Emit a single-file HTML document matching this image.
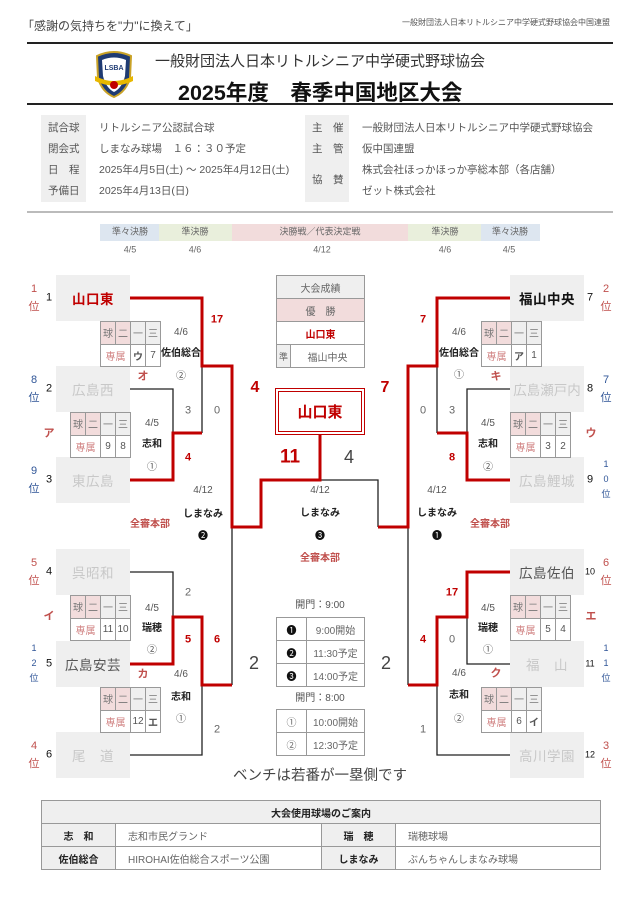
<!DOCTYPE html>
<html><head><meta charset="utf-8">
<style>
*{margin:0;padding:0;box-sizing:border-box}
body{width:640px;height:906px;position:relative;background:#fff;font-family:"Liberation Sans","Noto Sans CJK JP",sans-serif;color:#333;overflow:hidden}
.a{position:absolute;white-space:nowrap}
.t{position:absolute;white-space:nowrap;transform:translate(-50%,-50%);line-height:1}
.r{color:#c00000;font-weight:bold}
.g{color:#666}
.box{position:absolute;background:#efefef;display:flex;align-items:center;justify-content:center;font-size:13.5px;color:#c8c8c8;letter-spacing:0.5px;white-space:nowrap}
table.s{position:absolute;border-collapse:collapse;font-size:10px;table-layout:fixed}
table.s td{border:1px solid #999;text-align:center;height:22.5px;width:15px;padding:0;color:#555;background:#fff}
table.s td.p{background:#f2dcdc;color:#777}
table.s td.q{background:#efefef;color:#777}
table.s td.z{color:#d08080}
.rank{position:absolute;font-size:11px;text-align:center;width:14px;line-height:18px}
.red{color:#c0504d}.blue{color:#2f5597}
table.c{position:absolute;border-collapse:collapse;font-size:10px}
table.c td{border:1px solid #999;text-align:center;height:23px;padding:0;color:#666}
</style></head><body>

<div class="a" style="left:22px;top:17px;font-size:12px;color:#444">「感謝の気持ちを"力"に換えて」</div>
<div class="a" style="left:402px;top:17px;font-size:8px;color:#555">一般財団法人日本リトルシニア中学硬式野球協会中国連盟</div>
<div class="a" style="left:27px;top:42px;width:586px;height:2px;background:#222"></div>
<svg class="a" style="left:93px;top:50px" width="42" height="48" viewBox="0 0 42 48">
<path d="M4,6 Q21,-2 38,6 L37,28 Q33,42 21,47 Q9,42 5,28 Z" fill="#1f3b73" stroke="#c9a227" stroke-width="2"/>
<path d="M9,10 Q21,5 33,10 L32,26 Q29,38 21,42 Q13,38 10,26 Z" fill="#fff"/>
<text x="21" y="20" font-size="7" text-anchor="middle" fill="#1f3b73" font-weight="bold">LSBA</text>
<path d="M2,26 Q21,36 40,26 L40,31 Q21,40 2,31 Z" fill="#e8b800"/>
<circle cx="21" cy="35" r="4" fill="#c00000"/>
</svg>
<div class="a" style="left:155px;top:50px;font-size:15px;color:#333">一般財団法人日本リトルシニア中学硬式野球協会</div>
<div class="a" style="left:178px;top:76px;font-size:21.5px;font-weight:bold;color:#111">2025年度　春季中国地区大会</div>
<div class="a" style="left:27px;top:103px;width:586px;height:2px;background:#222"></div>

<div class="a" style="left:41px;top:115px;width:45px;height:87px;background:#efefef"></div>
<div class="a" style="left:305px;top:115px;width:44px;height:87px;background:#efefef"></div>
<div style="font-size:10.5px;color:#555">
<div class="a" style="left:48px;top:120px">試合球</div>
<div class="a" style="left:48px;top:141px">閉会式</div>
<div class="a" style="left:48px;top:162px">日　程</div>
<div class="a" style="left:48px;top:183px">予備日</div>
<div class="a" style="left:99px;top:120px">リトルシニア公認試合球</div>
<div class="a" style="left:99px;top:141px">しまなみ球場　１６：３０予定</div>
<div class="a" style="left:99px;top:162px">2025年4月5日(土) ～ 2025年4月12日(土)</div>
<div class="a" style="left:99px;top:183px">2025年4月13日(日)</div>
<div class="a" style="left:312px;top:120px">主　催</div>
<div class="a" style="left:312px;top:141px">主　管</div>
<div class="a" style="left:312px;top:172px">協　賛</div>
<div class="a" style="left:362px;top:120px">一般財団法人日本リトルシニア中学硬式野球協会</div>
<div class="a" style="left:362px;top:141px">仮中国連盟</div>
<div class="a" style="left:362px;top:162px">株式会社ほっかほっか亭総本部（各店舗）</div>
<div class="a" style="left:362px;top:183px">ゼット株式会社</div>
</div>
<div class="a" style="left:27px;top:211px;width:586px;height:2px;background:#bbb"></div>

<div class="a" style="left:100px;top:224px;width:59px;height:17px;background:#dde6f0"></div>
<div class="a" style="left:159px;top:224px;width:73px;height:17px;background:#e9efdc"></div>
<div class="a" style="left:232px;top:224px;width:176px;height:17px;background:#f2dcdc"></div>
<div class="a" style="left:408px;top:224px;width:73px;height:17px;background:#e9efdc"></div>
<div class="a" style="left:481px;top:224px;width:59px;height:17px;background:#dde6f0"></div>
<div style="font-size:9px;color:#666">
<div class="t" style="left:130px;top:232px">準々決勝</div>
<div class="t" style="left:195px;top:232px">準決勝</div>
<div class="t" style="left:320px;top:232px">決勝戦／代表決定戦</div>
<div class="t" style="left:445px;top:232px">準決勝</div>
<div class="t" style="left:510px;top:232px">準々決勝</div>
<div class="t" style="left:130px;top:250px">4/5</div>
<div class="t" style="left:195px;top:250px">4/6</div>
<div class="t" style="left:322px;top:250px">4/12</div>
<div class="t" style="left:445px;top:250px">4/6</div>
<div class="t" style="left:509px;top:250px">4/5</div>
</div>

<!-- team boxes -->
<div class="box" style="left:56px;top:275px;width:74px;height:46px;color:#c00000;font-weight:bold">山口東</div>
<div class="box" style="left:56px;top:366px;width:74px;height:46px">広島西</div>
<div class="box" style="left:56px;top:457px;width:74px;height:46px">東広島</div>
<div class="box" style="left:56px;top:549px;width:74px;height:46px">呉昭和</div>
<div class="box" style="left:56px;top:641px;width:74px;height:46px;color:#555">広島安芸</div>
<div class="box" style="left:56px;top:732px;width:74px;height:46px">尾　道</div>
<div class="box" style="left:510px;top:275px;width:74px;height:46px;color:#111;font-weight:bold">福山中央</div>
<div class="box" style="left:510px;top:366px;width:74px;height:46px;letter-spacing:0">広島瀬戸内</div>
<div class="box" style="left:510px;top:457px;width:74px;height:46px">広島鯉城</div>
<div class="box" style="left:510px;top:549px;width:74px;height:46px;color:#555">広島佐伯</div>
<div class="box" style="left:510px;top:641px;width:74px;height:46px">福　山</div>
<div class="box" style="left:510px;top:732px;width:74px;height:46px">高川学園</div>

<!-- seed numbers -->
<div style="font-size:11px;color:#111">
<div class="t" style="left:49px;top:298px">1</div>
<div class="t" style="left:49px;top:389px">2</div>
<div class="t" style="left:49px;top:480px">3</div>
<div class="t" style="left:49px;top:572px">4</div>
<div class="t" style="left:49px;top:664px">5</div>
<div class="t" style="left:49px;top:755px">6</div>
<div class="t" style="left:590px;top:298px">7</div>
<div class="t" style="left:590px;top:389px">8</div>
<div class="t" style="left:590px;top:480px">9</div>
<div class="t" style="left:590px;top:572px;font-size:9px">10</div>
<div class="t" style="left:590px;top:664px;font-size:9px">11</div>
<div class="t" style="left:590px;top:755px;font-size:9px">12</div>
</div>
<div class="rank red" style="left:27px;top:280px">1<br>位</div>
<div class="rank blue" style="left:27px;top:371px">8<br>位</div>
<div class="rank blue" style="left:27px;top:462px">9<br>位</div>
<div class="rank red" style="left:27px;top:554px">5<br>位</div>
<div class="rank blue" style="left:27px;top:641px;line-height:15px;font-size:9px">1<br>2<br>位</div>
<div class="rank red" style="left:27px;top:737px">4<br>位</div>
<div class="rank red" style="left:599px;top:280px">2<br>位</div>
<div class="rank blue" style="left:599px;top:371px">7<br>位</div>
<div class="rank blue" style="left:599px;top:457px;line-height:15px;font-size:9px">1<br>0<br>位</div>
<div class="rank red" style="left:599px;top:554px">6<br>位</div>
<div class="rank blue" style="left:599px;top:641px;line-height:15px;font-size:9px">1<br>1<br>位</div>
<div class="rank red" style="left:599px;top:737px">3<br>位</div>

<!-- score tables -->
<table class="s" style="left:100px;top:321px"><tr><td class="p">球</td><td class="p">二</td><td class="q">一</td><td class="q">三</td></tr><tr><td class="z" colspan="2">専属</td><td class="r">ウ</td><td>7</td></tr></table>
<table class="s" style="left:70px;top:412px"><tr><td class="p">球</td><td class="p">二</td><td class="q">一</td><td class="q">三</td></tr><tr><td class="z" colspan="2">専属</td><td>9</td><td>8</td></tr></table>
<table class="s" style="left:70px;top:595px"><tr><td class="p">球</td><td class="p">二</td><td class="q">一</td><td class="q">三</td></tr><tr><td class="z" colspan="2">専属</td><td>11</td><td>10</td></tr></table>
<table class="s" style="left:100px;top:687px"><tr><td class="p">球</td><td class="p">二</td><td class="q">一</td><td class="q">三</td></tr><tr><td class="z" colspan="2">専属</td><td>12</td><td class="r">エ</td></tr></table>
<table class="s" style="left:481px;top:321px"><tr><td class="p">球</td><td class="p">二</td><td class="q">一</td><td class="q">三</td></tr><tr><td class="z" colspan="2">専属</td><td class="r">ア</td><td>1</td></tr></table>
<table class="s" style="left:510px;top:412px"><tr><td class="p">球</td><td class="p">二</td><td class="q">一</td><td class="q">三</td></tr><tr><td class="z" colspan="2">専属</td><td>3</td><td>2</td></tr></table>
<table class="s" style="left:510px;top:595px"><tr><td class="p">球</td><td class="p">二</td><td class="q">一</td><td class="q">三</td></tr><tr><td class="z" colspan="2">専属</td><td>5</td><td>4</td></tr></table>
<table class="s" style="left:481px;top:687px"><tr><td class="p">球</td><td class="p">二</td><td class="q">一</td><td class="q">三</td></tr><tr><td class="z" colspan="2">専属</td><td>6</td><td class="r">イ</td></tr></table>

<!-- lines -->
<svg class="a" style="left:0;top:0" width="640" height="906" fill="none">
<g stroke="#222" stroke-width="1.3">
<path d="M130,389H173V433M202,366V433M130,572H173V617M130,755H202V685M232,527V685"/>
<path d="M510,389H467V433M437,366V433M510,664H467V617M510,755H437V685M408,527V685M320,480H378V527"/>
</g>
<g stroke="#c00000" stroke-width="3">
<path d="M130,298H202V366H232V527H261V480H320V435M130,480H173V433H202M130,664H173V617H202V685H232"/>
<path d="M510,298H437V366H408V527H378M510,480H467V433H437M510,572H467V617H437V685H408"/>
</g>
</svg>

<!-- center result table -->
<table class="c" style="left:276px;top:275px;width:89px">
<tr><td colspan="2" style="background:#efefef">大会成績</td></tr>
<tr><td colspan="2" style="background:#f2dcdc">優　勝</td></tr>
<tr><td colspan="2" style="color:#c00000;font-weight:bold">山口東</td></tr>
<tr><td style="width:14px;background:#efefef;font-size:9px">準</td><td>福山中央</td></tr>
</table>
<div class="a" style="left:275px;top:388px;width:90px;height:47px;border:4px double #c00000;background:#fff;display:flex;align-items:center;justify-content:center;color:#c00000;font-weight:bold;font-size:15px">山口東</div>

<!-- scores -->
<div style="font-size:11px">
<div class="t r" style="left:217px;top:320px">17</div>
<div class="t g" style="left:188px;top:411px">3</div>
<div class="t g" style="left:217px;top:411px">0</div>
<div class="t r" style="left:188px;top:458px">4</div>
<div class="t g" style="left:188px;top:593px">2</div>
<div class="t r" style="left:188px;top:640px">5</div>
<div class="t r" style="left:217px;top:640px">6</div>
<div class="t g" style="left:217px;top:730px">2</div>
<div class="t r" style="left:423px;top:320px">7</div>
<div class="t g" style="left:423px;top:411px">0</div>
<div class="t g" style="left:452px;top:411px">3</div>
<div class="t r" style="left:452px;top:458px">8</div>
<div class="t r" style="left:452px;top:593px">17</div>
<div class="t r" style="left:423px;top:640px">4</div>
<div class="t g" style="left:452px;top:640px">0</div>
<div class="t g" style="left:423px;top:730px">1</div>
</div>
<div class="t r" style="left:255px;top:388px;font-size:16px">4</div>
<div class="t r" style="left:385px;top:388px;font-size:16px">7</div>
<div class="t r" style="left:290px;top:457px;font-size:19px">11</div>
<div class="t g" style="left:349px;top:457px;font-size:18px;color:#444">4</div>
<div class="t g" style="left:254px;top:663px;font-size:18px;color:#444">2</div>
<div class="t g" style="left:386px;top:663px;font-size:18px;color:#444">2</div>

<!-- match info -->
<div style="font-size:10px;color:#555">
<div class="t" style="left:181px;top:333px">4/6</div>
<div class="t" style="left:181px;top:354px;font-weight:bold;color:#222">佐伯総合</div>
<div class="t" style="left:181px;top:377px">②</div>
<div class="t" style="left:152px;top:424px">4/5</div>
<div class="t" style="left:152px;top:445px;font-weight:bold;color:#222">志和</div>
<div class="t" style="left:152px;top:468px">①</div>
<div class="t" style="left:203px;top:491px">4/12</div>
<div class="t" style="left:203px;top:515px;font-weight:bold;color:#222">しまなみ</div>
<div class="t" style="left:203px;top:537px;color:#111">❷</div>
<div class="t" style="left:152px;top:609px">4/5</div>
<div class="t" style="left:152px;top:629px;font-weight:bold;color:#222">瑞穂</div>
<div class="t" style="left:152px;top:651px">②</div>
<div class="t" style="left:181px;top:675px">4/6</div>
<div class="t" style="left:181px;top:698px;font-weight:bold;color:#222">志和</div>
<div class="t" style="left:181px;top:720px">①</div>
<div class="t" style="left:320px;top:491px">4/12</div>
<div class="t" style="left:320px;top:514px;font-weight:bold;color:#222">しまなみ</div>
<div class="t" style="left:320px;top:537px;color:#111">❸</div>
<div class="t" style="left:459px;top:333px">4/6</div>
<div class="t" style="left:459px;top:354px;font-weight:bold;color:#222">佐伯総合</div>
<div class="t" style="left:459px;top:376px">①</div>
<div class="t" style="left:488px;top:424px">4/5</div>
<div class="t" style="left:488px;top:445px;font-weight:bold;color:#222">志和</div>
<div class="t" style="left:488px;top:468px">②</div>
<div class="t" style="left:437px;top:491px">4/12</div>
<div class="t" style="left:437px;top:514px;font-weight:bold;color:#222">しまなみ</div>
<div class="t" style="left:437px;top:537px;color:#111">❶</div>
<div class="t" style="left:488px;top:609px">4/5</div>
<div class="t" style="left:488px;top:629px;font-weight:bold;color:#222">瑞穂</div>
<div class="t" style="left:488px;top:651px">①</div>
<div class="t" style="left:459px;top:674px">4/6</div>
<div class="t" style="left:459px;top:696px;font-weight:bold;color:#222">志和</div>
<div class="t" style="left:459px;top:720px">②</div>
<div class="t" style="left:150px;top:525px;color:#c0504d;font-weight:bold">全審本部</div>
<div class="t" style="left:320px;top:559px;color:#c0504d;font-weight:bold">全審本部</div>
<div class="t" style="left:490px;top:525px;color:#c0504d;font-weight:bold">全審本部</div>
<div class="t" style="left:320px;top:606px">開門：9:00</div>
<div class="t" style="left:320px;top:699px">開門：8:00</div>
</div>
<div style="font-size:11px">
<div class="t r" style="left:143px;top:377px;color:#c0504d">オ</div>
<div class="t r" style="left:49px;top:434px;color:#c0504d">ア</div>
<div class="t r" style="left:49px;top:617px;color:#c0504d">イ</div>
<div class="t r" style="left:143px;top:675px;color:#c0504d">カ</div>
<div class="t r" style="left:496px;top:377px;color:#c0504d">キ</div>
<div class="t r" style="left:591px;top:434px;color:#c0504d">ウ</div>
<div class="t r" style="left:591px;top:617px;color:#c0504d">エ</div>
<div class="t r" style="left:496px;top:674px;color:#c0504d">ク</div>
</div>

<table class="c" style="left:276px;top:617px;width:89px">
<tr><td style="width:30px;color:#111">❶</td><td>9:00開始</td></tr>
<tr><td style="color:#111">❷</td><td>11:30予定</td></tr>
<tr><td style="color:#111">❸</td><td>14:00予定</td></tr>
</table>
<table class="c" style="left:276px;top:709px;width:89px">
<tr><td style="width:30px">①</td><td>10:00開始</td></tr>
<tr><td>②</td><td>12:30予定</td></tr>
</table>

<div class="t" style="left:320px;top:776px;font-size:14.5px;color:#444">ベンチは若番が一塁側です</div>

<table class="c" style="left:41px;top:800px;width:560px;font-size:10px;border:1px solid #888">
<tr><td colspan="4" style="background:#efefef;font-weight:bold;color:#222;height:23px">大会使用球場のご案内</td></tr>
<tr><td style="width:74px;background:#efefef;font-weight:bold;color:#222">志　和</td><td style="width:206px;text-align:left;padding-left:12px">志和市民グランド</td><td style="width:74px;background:#efefef;font-weight:bold;color:#222">瑞　穂</td><td style="text-align:left;padding-left:12px">瑞穂球場</td></tr>
<tr><td style="background:#efefef;font-weight:bold;color:#222">佐伯総合</td><td style="text-align:left;padding-left:12px">HIROHAI佐伯総合スポーツ公園</td><td style="background:#efefef;font-weight:bold;color:#222">しまなみ</td><td style="text-align:left;padding-left:12px">ぶんちゃんしまなみ球場</td></tr>
</table>
</body></html>
